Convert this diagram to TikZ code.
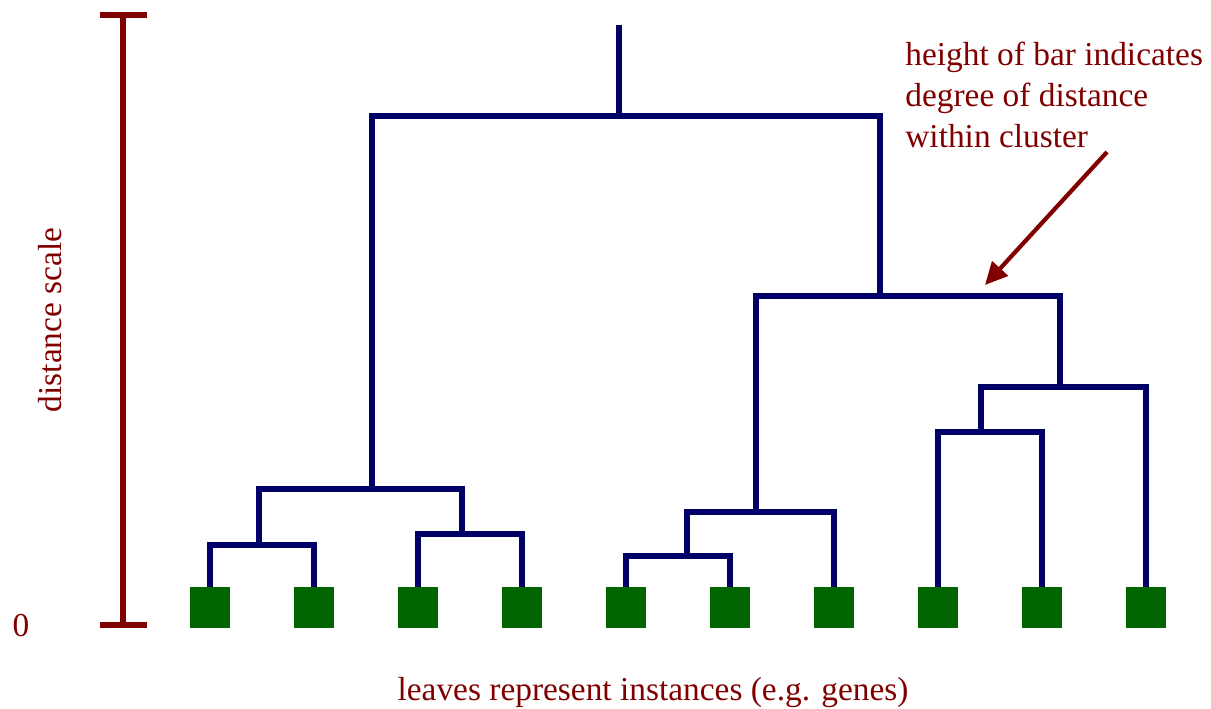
\documentclass[tikz,border=0pt]{standalone}
\usepackage{fontspec}
\setmainfont{Liberation Serif}
\newfontfamily\notefont{Liberation Serif}
\usetikzlibrary{arrows.meta}
\definecolor{barred}{RGB}{128,0,0}
\definecolor{treeblue}{RGB}{0,0,102}
\definecolor{leafgreen}{RGB}{0,100,0}

\begin{document}
\begin{tikzpicture}[
leaf/.style = {rectangle, fill=leafgreen, minimum width=0.8cm, minimum height=0.82cm, inner sep=0pt},
branch/.style = {draw=treeblue, line width=3.6pt},
scalebar/.style = {draw=barred, line width=3.6pt},
note/.style = {text=barred, inner sep=0pt, font=\notefont\fontsize{19}{23.3}\selectfont},
]
\useasboundingbox (0,0) rectangle (24.22,14.18);

% Draw leaves
\foreach \i in {1,...,10}
  \node[leaf] (l\i) at ({4.2+2.08*(\i-1)}, 2.03) {};

% Cluster joins
\coordinate (j12) at (5.18,3.28);
\coordinate (j34) at (9.24,3.50);
\coordinate (j1234) at (7.44,4.40);
\coordinate (j56) at (13.74,3.06);
\coordinate (j567) at (15.12,3.94);
\coordinate (j89) at (19.62,5.54);
\coordinate (j8910) at (21.20,6.44);
\coordinate (j5to10) at (17.60,8.26);
\coordinate (jall) at (12.38,11.86);
\coordinate (jtop) at (12.38,13.68);

% Draw branches
\draw[branch] (l1.north) |- (j12) -| (l2.north);
\draw[branch] (l3.north) |- (j34) -| (l4.north);
\draw[branch] (j12) |- (j1234) -| (j34);
\draw[branch] (l5.north) |- (j56) -| (l6.north);
\draw[branch] (j56) |- (j567) -| (l7.north);
\draw[branch] (l8.north) |- (j89) -| (l9.north);
\draw[branch] (j89) |- (j8910) -| (l10.north);
\draw[branch] (j567) |- (j5to10) -| (j8910);
\draw[branch] (j1234) |- (jall) -| (j5to10);
\draw[branch] (jall) -- (jtop);

% Draw distance scale
\coordinate (sbtop) at (2.46,13.88);
\coordinate (sbbot) at (2.46,1.68);
\draw[scalebar] (sbtop) -- (sbbot);
\draw[scalebar] ([xshift=-0.47cm]sbtop) -- ([xshift=0.47cm]sbtop);
\draw[scalebar] ([xshift=-0.47cm]sbbot) -- ([xshift=0.47cm]sbbot);

% Labels
\node[note] (zero) at (0.42,1.66) {0};
\node[note, rotate=90] (scale) at (1.00,7.78) {distance scale};
\node[note] (leaves) at (13.06,0.33) {leaves represent instances (e.g. genes)};
\node[note, anchor=north west, align=left] (height) at (18.10,13.34) {height of bar indicates\\degree of distance\\within cluster};

% Draw arrow
\coordinate (arrfrom) at (22.14,11.14);
\coordinate (arrto) at (19.70,8.48);
\draw[barred, line width=2.4pt, -{Triangle[length=0.45cm,width=0.42cm]}] (arrfrom) -- (arrto);

\end{tikzpicture}
\end{document}
